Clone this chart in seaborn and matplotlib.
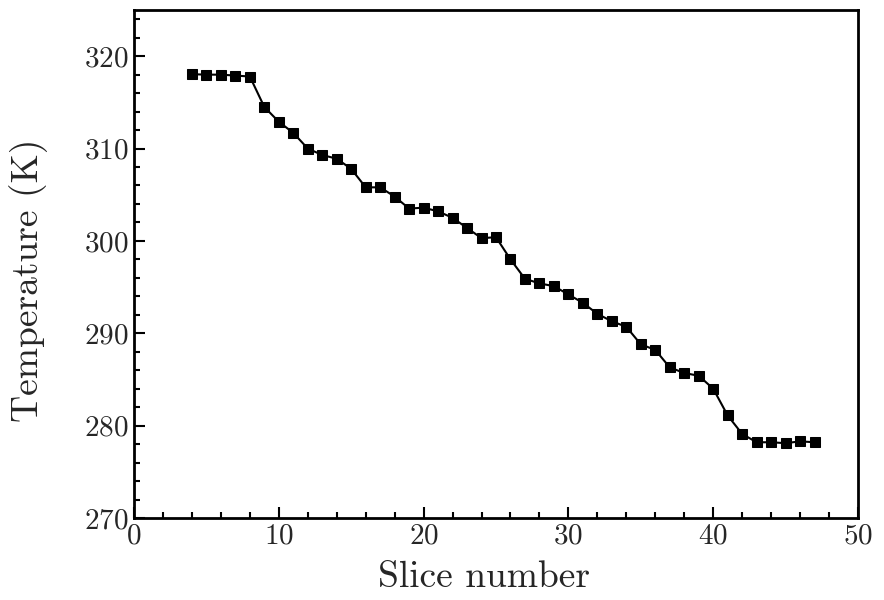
import matplotlib
matplotlib.use("Agg")
import matplotlib.pyplot as plt
import seaborn as sns
import pandas as pd
from matplotlib.ticker import MultipleLocator

slices = list(range(4, 48))
temperature = [318.05, 318.0, 318.0, 317.9, 317.8, 314.5, 312.9, 311.7, 310.0, 309.3,
               308.9, 307.8, 305.8, 305.8, 304.8, 303.5, 303.6, 303.2, 302.5, 301.4,
               300.3, 300.4, 298.0, 295.9, 295.4, 295.1, 294.2, 293.3, 292.1, 291.3,
               290.7, 288.8, 288.2, 286.3, 285.7, 285.4, 284.0, 281.1, 279.1, 278.2,
               278.2, 278.1, 278.3, 278.2]

df = pd.DataFrame({"Slice": slices, "T": temperature})

sns.set_style("white")
plt.rcParams["font.family"] = ["cmr10", "DejaVu Serif"]
plt.rcParams["axes.formatter.use_mathtext"] = True
plt.rcParams["mathtext.fontset"] = "cm"

fig = plt.figure(figsize=(8.84, 6.0), dpi=100)
ax = fig.add_axes([134/884, 82/600, (858-134)/884, (518-10)/600])

sns.lineplot(data=df, x="Slice", y="T", ax=ax, color="black", marker="s",
             markersize=6.5, markeredgecolor="black", linewidth=1.5)

ax.set_xlim(0, 50)
ax.set_ylim(270, 325)
ax.xaxis.set_major_locator(MultipleLocator(10))
ax.xaxis.set_minor_locator(MultipleLocator(2))
ax.yaxis.set_major_locator(MultipleLocator(10))
ax.yaxis.set_minor_locator(MultipleLocator(2))
ax.tick_params(which="both", direction="in", top=False, right=False,
               bottom=True, left=True, width=1.5, color="black")
ax.tick_params(which="major", length=8, labelsize=21, pad=4)
ax.tick_params(which="minor", length=4)
for s in ax.spines.values():
    s.set_linewidth(2)
    s.set_color("black")
ax.set_xlabel("Slice number", fontsize=27)
ax.set_ylabel("Temperature (K)", fontsize=27)
ax.xaxis.set_label_coords(0.4834, -0.084)
ax.yaxis.set_label_coords(-0.1187, 0.4685)

fig.savefig("out.png", dpi=100)
